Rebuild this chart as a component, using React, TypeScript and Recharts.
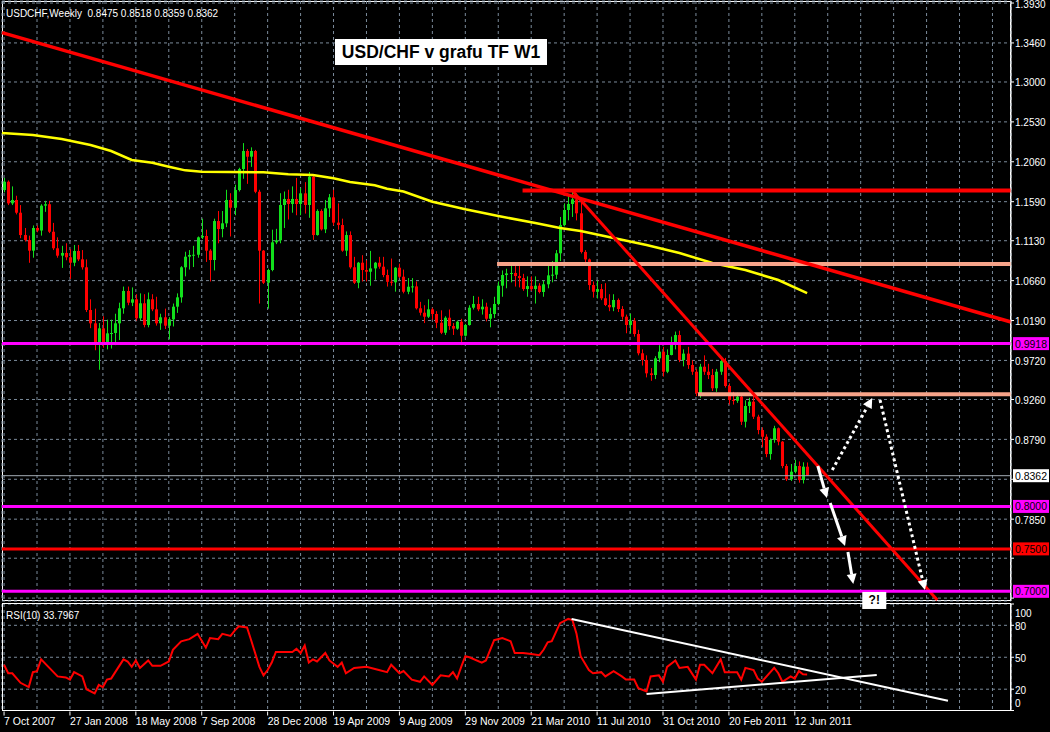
import React from 'react';
import { ComposedChart, Bar, Line, XAxis, YAxis, CartesianGrid, ReferenceLine, ReferenceDot } from 'recharts';

// ---------- DATA ----------
const firstOpen = 1.1727;
const closes = [
  1.1825, 1.1570, 1.1610, 1.1460, 1.1197, 1.1138, 1.1013, 1.1280, 1.1250, 1.1543,
  1.1560, 1.1236, 1.1041, 1.0954, 1.0986, 1.0935, 1.0871, 1.1009, 1.0911, 1.0817,
  1.0314, 1.0157, 0.9902, 1.0098, 0.9902, 1.0039, 1.0043, 1.0157, 1.0334, 1.0538,
  1.0400, 1.0440, 1.0216, 1.0393, 1.0137, 1.0440, 1.0322, 1.0157, 1.0228, 1.0129,
  1.0204, 1.0353, 1.0463, 1.0817, 1.0942, 1.0962, 1.0965, 1.1170, 1.1186, 1.1013,
  1.0903, 1.1362, 1.1268, 1.1335, 1.1610, 1.1519, 1.1727, 1.1975, 1.2187, 1.2120,
  1.2187, 1.1707, 1.1013, 1.0635, 1.0785, 1.1111, 1.1135, 1.1551, 1.1622, 1.1563,
  1.1622, 1.1563, 1.1688, 1.1551, 1.1884, 1.1197, 1.1480, 1.1264, 1.1512, 1.1641,
  1.1343, 1.1315, 1.1013, 1.1197, 1.0817, 1.0635, 1.0871, 1.0785, 1.0765, 1.0804,
  1.0871, 1.0824, 1.0726, 1.0647, 1.0640, 1.0812, 1.0706, 1.0529, 1.0588, 1.0592,
  1.0334, 1.0282, 1.0235, 1.0322, 1.0267, 1.0164, 1.0046, 1.0223, 1.0125, 1.0094,
  1.0176, 1.0011, 1.0137, 1.0341, 1.0385, 1.0322, 1.0353, 1.0211, 1.0267, 1.0385,
  1.0600, 1.0726, 1.0745, 1.0750, 1.0714, 1.0690, 1.0561, 1.0596, 1.0561, 1.0600,
  1.0526, 1.0617, 1.0722, 1.0730, 1.0982, 1.1315, 1.1492, 1.1563, 1.1618, 1.1453,
  1.0998, 1.0910, 1.0608, 1.0529, 1.0560, 1.0452, 1.0373, 1.0346, 1.0432, 1.0326,
  1.0235, 1.0137, 1.0188, 1.0031, 0.9804, 0.9725, 0.9568, 0.9548, 0.9745, 0.9823,
  0.9587, 0.9784, 0.9902, 1.0019, 0.9725, 0.9800, 0.9666, 0.9587, 0.9333, 0.9646,
  0.9587, 0.9548, 0.9392, 0.9587, 0.9713, 0.9419, 0.9254, 0.9245, 0.9293, 0.8998,
  0.9183, 0.9234, 0.9057, 0.8900, 0.8821, 0.8617, 0.8783, 0.8921, 0.8763, 0.8476,
  0.8320, 0.8409, 0.8476, 0.8311, 0.8468, 0.8362,
];
const highs = [
  1.187, 1.184, 1.177, 1.166, 1.155, 1.128, 1.119, 1.131, 1.131, 1.156,
  1.160, 1.160, 1.134, 1.117, 1.107, 1.110, 1.103, 1.108, 1.108, 1.102,
  1.091, 1.044, 1.033, 1.016, 1.024, 1.020, 1.020, 1.027, 1.040, 1.059,
  1.059, 1.058, 1.050, 1.051, 1.050, 1.052, 1.050, 1.047, 1.027, 1.033,
  1.023, 1.039, 1.051, 1.083, 1.100, 1.102, 1.107, 1.118, 1.139, 1.126,
  1.103, 1.139, 1.148, 1.148, 1.173, 1.169, 1.179, 1.199, 1.228, 1.221,
  1.223, 1.220, 1.173, 1.102, 1.080, 1.126, 1.127, 1.169, 1.171, 1.173,
  1.177, 1.187, 1.175, 1.182, 1.194, 1.189, 1.150, 1.150, 1.161, 1.168,
  1.173, 1.157, 1.139, 1.124, 1.124, 1.094, 1.088, 1.096, 1.090, 1.101,
  1.088, 1.094, 1.094, 1.079, 1.092, 1.082, 1.086, 1.079, 1.069, 1.069,
  1.065, 1.041, 1.037, 1.044, 1.034, 1.030, 1.031, 1.024, 1.032, 1.016,
  1.019, 1.021, 1.015, 1.037, 1.048, 1.047, 1.044, 1.040, 1.034, 1.047,
  1.065, 1.078, 1.080, 1.087, 1.086, 1.084, 1.074, 1.071, 1.071, 1.071,
  1.063, 1.066, 1.085, 1.089, 1.102, 1.141, 1.157, 1.168, 1.171, 1.169,
  1.162, 1.102, 1.092, 1.065, 1.066, 1.062, 1.063, 1.050, 1.050, 1.045,
  1.036, 1.026, 1.027, 1.022, 1.008, 0.985, 0.978, 0.963, 0.977, 0.990,
  0.988, 0.985, 1.000, 1.006, 1.007, 0.985, 0.988, 0.972, 0.962, 0.968,
  0.978, 0.968, 0.962, 0.962, 0.975, 0.975, 0.945, 0.935, 0.934, 0.931,
  0.925, 0.928, 0.930, 0.908, 0.893, 0.885, 0.880, 0.895, 0.893, 0.877,
  0.850, 0.850, 0.855, 0.853, 0.852, 0.8518,
];
const lows = [
  1.170, 1.155, 1.155, 1.144, 1.116, 1.112, 1.087, 1.093, 1.123, 1.119,
  1.147, 1.122, 1.102, 1.093, 1.081, 1.090, 1.068, 1.083, 1.089, 1.079,
  1.029, 1.010, 0.984, 0.961, 0.987, 0.985, 0.986, 0.990, 0.996, 1.027,
  1.037, 1.036, 1.019, 1.019, 1.011, 1.011, 1.030, 1.013, 1.008, 1.009,
  0.997, 1.012, 1.028, 1.040, 1.071, 1.079, 1.082, 1.093, 1.115, 1.088,
  1.065, 1.078, 1.110, 1.117, 1.129, 1.118, 1.143, 1.171, 1.186, 1.180,
  1.200, 1.169, 1.039, 1.062, 1.033, 1.077, 1.109, 1.110, 1.128, 1.138,
  1.146, 1.143, 1.143, 1.145, 1.140, 1.114, 1.119, 1.125, 1.122, 1.141,
  1.131, 1.126, 1.100, 1.095, 1.080, 1.062, 1.057, 1.065, 1.065, 1.060,
  1.067, 1.080, 1.070, 1.059, 1.060, 1.053, 1.069, 1.051, 1.050, 1.052,
  1.032, 1.025, 1.016, 1.022, 1.020, 1.010, 1.003, 1.002, 1.008, 1.002,
  1.008, 0.990, 1.000, 1.013, 1.032, 1.030, 1.026, 1.018, 1.011, 1.022,
  1.037, 1.047, 1.057, 1.064, 1.059, 1.058, 1.054, 1.047, 1.054, 1.039,
  1.051, 1.047, 1.057, 1.064, 1.068, 1.089, 1.130, 1.137, 1.141, 1.137,
  1.098, 1.087, 1.055, 1.046, 1.045, 1.043, 1.036, 1.030, 1.030, 1.029,
  1.020, 1.004, 1.004, 1.000, 0.978, 0.966, 0.952, 0.948, 0.950, 0.970,
  0.953, 0.957, 0.978, 0.985, 0.970, 0.965, 0.962, 0.955, 0.930, 0.928,
  0.955, 0.950, 0.936, 0.935, 0.955, 0.940, 0.920, 0.920, 0.922, 0.896,
  0.893, 0.910, 0.903, 0.885, 0.870, 0.858, 0.855, 0.875, 0.872, 0.845,
  0.830, 0.830, 0.839, 0.828, 0.827, 0.8359,
];

// moving average (yellow) read at week indices
const maWeeks = [-0.5, 7, 14, 21, 26, 31, 36, 40, 44, 48, 63, 69, 75, 80, 84, 90, 93, 97, 104, 112, 120, 129, 135, 140, 148, 156, 164, 172, 180, 188, 195];
const maValues = [1.2399, 1.2375, 1.2328, 1.2257, 1.2187, 1.2081, 1.2049, 1.2002, 1.1959, 1.1943, 1.1936, 1.1912, 1.1904, 1.1865, 1.1822, 1.1783, 1.1743, 1.1710, 1.1590, 1.1500, 1.1421, 1.1339, 1.1280, 1.1245, 1.1162, 1.1080, 1.0985, 1.0868, 1.0785, 1.0667, 1.0514];

// RSI(10) read at week indices
const rsiWeeks = [0, 1, 2, 4, 6, 7, 8, 9, 11, 13, 15, 16, 17, 19, 20, 22, 23, 24, 25, 26, 27, 29, 30, 31, 32, 33, 35, 36, 38, 40, 41, 43, 45, 47, 49, 50, 52, 53, 55, 56, 57, 59, 60, 62, 63, 64, 65, 66, 69, 70, 71, 72, 73, 74, 75, 76, 78, 79, 81, 82, 83, 85, 88, 91, 93, 94, 96, 97, 99, 101, 102, 104, 106, 108, 109, 110, 111, 112, 113, 116, 117, 119, 121, 123, 124, 126, 128, 130, 131, 132, 133, 135, 137, 138, 139, 140, 142, 143, 145, 146, 148, 150, 151, 153, 154, 156, 157, 159, 160, 161, 163, 164, 166, 168, 169, 170, 172, 174, 175, 178, 179, 180, 182, 183, 184, 187, 188, 189, 191, 192, 193, 194, 195];
const rsiValues = [43, 35, 35, 26, 22, 36, 37, 48, 40, 32, 31, 29, 36, 32, 20, 16, 24, 22, 29, 30, 36, 48, 46, 41, 47, 40, 47, 42, 42, 46, 57, 65, 67, 72, 59, 68, 67, 72, 70, 75, 79, 78, 66, 41, 33, 38, 45, 55, 55, 55, 58, 54, 61, 45, 48, 46, 54, 47, 41, 45, 35, 40, 41, 38, 36, 43, 35, 37, 29, 27, 32, 24, 33, 32, 36, 30, 41, 51, 50, 45, 47, 66, 68, 65, 54, 54, 53, 52, 57, 64, 65, 82, 86, 85, 72, 51, 38, 35, 36, 32, 37, 32, 29, 29, 21, 18, 32, 33, 27, 41, 47, 40, 41, 29, 43, 43, 35, 48, 36, 36, 29, 40, 38, 30, 27, 40, 35, 27, 32, 30, 37, 34, 33.8];

const dateLabels = ['7 Oct 2007', '27 Jan 2008', '18 May 2008', '7 Sep 2008', '28 Dec 2008', '19 Apr 2009', '9 Aug 2009', '29 Nov 2009', '21 Mar 2010', '11 Jul 2010', '31 Oct 2010', '20 Feb 2011', '12 Jun 2011'];
const dateLabelWeeks = [0, 16, 32, 48, 64, 80, 96, 112, 128, 144, 160, 176, 192];
const gridWeeks = [0, 8, 16, 24, 32, 40, 48, 56, 64, 72, 80, 88, 96, 104, 112, 120, 128, 136, 144, 152, 160, 168, 176, 184, 192, 200, 208, 216, 224, 232, 240];

const priceTicks = [1.393, 1.346, 1.300, 1.253, 1.206, 1.159, 1.113, 1.066, 1.019, 0.972, 0.926, 0.879, 0.832, 0.785, 0.739, 0.692];
const hiddenPriceLabels = [0.832, 0.739, 0.692];
const rsiTicks = [0, 20, 50, 80, 100];

const lastPrice = 0.8362;
const headerText = 'USDCHF,Weekly  0.8475 0.8518 0.8359 0.8362';
const rsiText = 'RSI(10) 33.7967';
const titleText = 'USD/CHF v grafu TF W1';

// levels and trend lines (data coordinates: week index, price)
const magentaLevels = [0.9918, 0.8000, 0.7000];
const redLevels = [0.7500];
const resistanceTop = { from: 125.9, to: 244.5, price: 1.1722 };
const salmonLevels = [
  { from: 119.7, to: 244.5, price: 1.0856 },
  { from: 168.5, to: 244.5, price: 0.9321 },
];
const longTrend = [{ x: -0.5, y: 1.3581 }, { x: 244.5, y: 1.0173 }];
const steepTrend = [{ x: 138.2, y: 1.1707 }, { x: 226.6, y: 0.6898 }];
const solidArrows = [
  [{ x: 197.6, y: 0.8476 }, { x: 199.8, y: 0.8100 }],
  [{ x: 200.6, y: 0.8041 }, { x: 204.2, y: 0.7534 }],
  [{ x: 204.9, y: 0.7464 }, { x: 206.2, y: 0.7086 }],
];
const dottedArrows = [
  [{ x: 201.1, y: 0.8429 }, { x: 210.8, y: 0.9278 }],
  [{ x: 212.7, y: 0.9254 }, { x: 223.6, y: 0.7016 }],
];
const questionMark = { x: 211.3, y: 0.6898, text: '?!' };
const rsiTrendDown = [{ x: 137.8, y: 85.9 }, { x: 229.2, y: 9.2 }];
const rsiTrendUp = [{ x: 156.0, y: 15.5 }, { x: 211.9, y: 33.3 }];

// ---------- BUILD ----------
const candles = closes.map((c, i) => ({
  i,
  o: i === 0 ? firstOpen : closes[i - 1],
  h: highs[i],
  l: lows[i],
  c,
  range: [lows[i], highs[i]],
}));
const maData = maWeeks.map((w, k) => ({ i: w, ma: maValues[k] }));
const rsiData = rsiWeeks.map((w, k) => ({ i: w, v: rsiValues[k] }));

// ---------- STYLE ----------
const FONT = '"Liberation Sans", Arial, sans-serif';
const BULL = '#12E01C';
const BEAR = '#FF0000';
const GRID = '#7B8B9B';
const MAGENTA = '#FF00FF';
const SALMON = '#F7A48A';
const X_DOMAIN: [number, number] = [-0.5, 244.5];

const Candle = (props: any) => {
  const { x, y, width, height, payload } = props;
  if (!payload) return null;
  const { o, h, l, c } = payload;
  const top0 = Math.min(y, y + height);
  const hgt = Math.abs(height);
  const span = h - l || 1e-9;
  const py = (v: number) => top0 + ((h - v) / span) * hgt;
  const color = c >= o ? BULL : BEAR;
  const bt = py(Math.max(o, c));
  const bb = py(Math.min(o, c));
  const cx = Math.round(x + width / 2) + 0.5;
  return (
    <g>
      <line x1={cx} x2={cx} y1={top0} y2={top0 + hgt} stroke={color} strokeWidth={1} />
      <rect x={cx - 1.5} y={bt} width={3} height={Math.max(1, bb - bt)} fill={color} />
    </g>
  );
};

const PriceTick = (props: any) => {
  const { x, y, payload } = props;
  if (hiddenPriceLabels.some((v) => Math.abs(v - payload.value) < 1e-6)) return null;
  return (
    <text x={x} y={y} dy={4.5} fill="#fff" fontSize={10} fontFamily={FONT} textAnchor="start">
      {Number(payload.value).toFixed(4)}
    </text>
  );
};

const RsiTick = (props: any) => {
  const { x, y, payload } = props;
  const v = payload.value;
  const dy = v === 100 ? 12.5 : v === 0 ? -4 : 4.5;
  return (
    <text x={x} y={y} dy={dy} fill="#fff" fontSize={10} fontFamily={FONT} textAnchor="start">
      {v}
    </text>
  );
};

const DateTick = (props: any) => {
  const { x, y, payload } = props;
  const k = dateLabelWeeks.indexOf(payload.value);
  if (k < 0) return null;
  return (
    <g>
      <line x1={x} x2={x} y1={y - 7} y2={y - 3} stroke="#fff" strokeWidth={1} />
      <text x={x} y={y} dy={6} fill="#fff" fontSize={10.5} fontFamily={FONT} textAnchor="start">
        {dateLabels[k]}
      </text>
    </g>
  );
};

const valueBox = (text: string, bg: string, fg: string) => (props: any) => {
  const vb = props.viewBox || {};
  const bx = vb.x + vb.width + 2;
  const cy = vb.y;
  return (
    <g>
      <rect x={bx} y={cy - 6.5} width={36} height={13} fill={bg} />
      <text x={bx + 18} y={cy + 4} textAnchor="middle" fontSize={10.5} fill={fg} fontFamily={FONT}>
        {text}
      </text>
    </g>
  );
};

const arrowShape = (dashed: boolean) => (props: any) => {
  const { x1, y1, x2, y2 } = props;
  if ([x1, y1, x2, y2].some((v) => typeof v !== 'number' || isNaN(v))) return null;
  const ang = Math.atan2(y2 - y1, x2 - x1);
  const len = 10;
  const hw = 5;
  const bx = x2 - len * Math.cos(ang);
  const by = y2 - len * Math.sin(ang);
  const px = -Math.sin(ang) * hw;
  const py = Math.cos(ang) * hw;
  return (
    <g>
      <line x1={x1} y1={y1} x2={bx} y2={by} stroke="#fff" strokeWidth={3} strokeDasharray={dashed ? '3 3' : undefined} />
      <polygon points={`${x2},${y2} ${bx + px},${by + py} ${bx - px},${by - py}`} fill="#fff" />
    </g>
  );
};

const QBox = (props: any) => {
  const { cx, cy } = props;
  if (typeof cx !== 'number') return null;
  return (
    <g>
      <rect x={cx - 12} y={cy - 8} width={24} height={17} fill="#fff" />
      <text x={cx} y={cy + 4.5} textAnchor="middle" fontSize={12} fontWeight="bold" fill="#000" fontFamily={FONT}>
        {questionMark.text}
      </text>
    </g>
  );
};

export default function App() {
  return (
    <div
      style={{
        position: 'absolute',
        left: 0,
        top: 0,
        width: 1050,
        height: 732,
        background: '#000',
        overflow: 'hidden',
        fontFamily: FONT,
      }}
    >
      <div style={{ position: 'absolute', left: 0, top: 603, zIndex: 1 }}>
        <ComposedChart width={1050} height={129} data={rsiData} margin={{ top: 1, right: 0, bottom: 0, left: 2 }}>
          <CartesianGrid stroke={GRID} strokeDasharray="3 3" />
          <XAxis
            type="number"
            dataKey="i"
            domain={X_DOMAIN}
            ticks={gridWeeks}
            interval={0}
            height={21.5}
            allowDataOverflow
            axisLine={{ stroke: '#fff' }}
            tickLine={false}
            tick={<DateTick />}
          />
          <YAxis
            orientation="right"
            width={39}
            domain={[0, 100]}
            ticks={rsiTicks}
            interval={0}
            axisLine={{ stroke: '#fff' }}
            tickLine={{ stroke: '#fff' }}
            tickSize={3}
            tickMargin={1}
            tick={<RsiTick />}
          />
          <Line dataKey="v" stroke={BEAR} strokeWidth={2} dot={false} isAnimationActive={false} />
          <ReferenceLine segment={rsiTrendDown} stroke="#fff" strokeWidth={2} />
          <ReferenceLine segment={rsiTrendUp} stroke="#fff" strokeWidth={2} />
        </ComposedChart>
      </div>

      {/* panel frames */}
      <div style={{ position: 'absolute', left: 2, top: 1, width: 1009, height: 600, border: '1px solid #fff', boxSizing: 'border-box', pointerEvents: 'none', zIndex: 2 }} />
      <div style={{ position: 'absolute', left: 2, top: 603, width: 1009, height: 108, border: '1px solid #fff', boxSizing: 'border-box', pointerEvents: 'none', zIndex: 2 }} />

      <div style={{ position: 'absolute', left: 0, top: 0, zIndex: 3 }}>
        <ComposedChart
          width={1050}
          height={614}
          data={candles}
          margin={{ top: 1, right: 0, bottom: 13, left: 2 }}
        >
          <CartesianGrid stroke={GRID} strokeDasharray="3 3" />
          <XAxis type="number" dataKey="i" domain={X_DOMAIN} ticks={gridWeeks} hide allowDataOverflow />
          <YAxis
            orientation="right"
            width={39}
            domain={[0.6886, 1.3954]}
            ticks={priceTicks}
            interval={0}
            allowDataOverflow
            axisLine={{ stroke: '#fff' }}
            tickLine={{ stroke: '#fff' }}
            tickSize={3}
            tickMargin={1}
            tick={<PriceTick />}
          />
          <Line data={maData} dataKey="ma" stroke="#FFFF00" strokeWidth={2.5} dot={false} isAnimationActive={false} />
          <Bar dataKey="range" shape={Candle} barSize={3} isAnimationActive={false} />
          <ReferenceLine y={lastPrice} stroke="#A4ADB6" strokeWidth={1} label={valueBox('0.8362', '#fff', '#000')} />
          {salmonLevels.map((s, k) => (
            <ReferenceLine
              key={'s' + k}
              segment={[{ x: s.from, y: s.price }, { x: s.to, y: s.price }]}
              stroke={SALMON}
              strokeWidth={4}
            />
          ))}
          <ReferenceLine
            segment={[{ x: resistanceTop.from, y: resistanceTop.price }, { x: resistanceTop.to, y: resistanceTop.price }]}
            stroke={BEAR}
            strokeWidth={4}
          />
          <ReferenceLine segment={longTrend} stroke={BEAR} strokeWidth={3.5} />
          <ReferenceLine segment={steepTrend} stroke={BEAR} strokeWidth={3} />
          {magentaLevels.map((v) => (
            <ReferenceLine key={'m' + v} y={v} stroke={MAGENTA} strokeWidth={3} label={valueBox(v.toFixed(4), MAGENTA, '#000')} />
          ))}
          {redLevels.map((v) => (
            <ReferenceLine key={'r' + v} y={v} stroke={BEAR} strokeWidth={3} label={valueBox(v.toFixed(4), BEAR, '#000')} />
          ))}
          {solidArrows.map((seg, k) => (
            <ReferenceLine key={'a' + k} segment={seg} stroke="#fff" shape={arrowShape(false)} />
          ))}
          {dottedArrows.map((seg, k) => (
            <ReferenceLine key={'d' + k} segment={seg} stroke="#fff" shape={arrowShape(true)} />
          ))}
          <ReferenceDot x={questionMark.x} y={questionMark.y} r={8} shape={QBox} ifOverflow="visible" />
        </ComposedChart>
      </div>

      <div style={{ position: 'absolute', left: 6, top: 8, color: '#fff', fontSize: 10, lineHeight: '12px', whiteSpace: 'pre', zIndex: 4 }}>
        {headerText}
      </div>
      <div style={{ position: 'absolute', left: 6, top: 610, color: '#fff', fontSize: 10, lineHeight: '12px', whiteSpace: 'pre', zIndex: 4 }}>
        {rsiText}
      </div>
      <div
        style={{
          position: 'absolute',
          left: 335,
          top: 39,
          width: 212,
          height: 26,
          background: '#fff',
          color: '#000',
          fontWeight: 'bold',
          fontSize: 17.5,
          lineHeight: '26px',
          textAlign: 'center',
          whiteSpace: 'nowrap',
          zIndex: 4,
        }}
      >
        {titleText}
      </div>
    </div>
  );
}
